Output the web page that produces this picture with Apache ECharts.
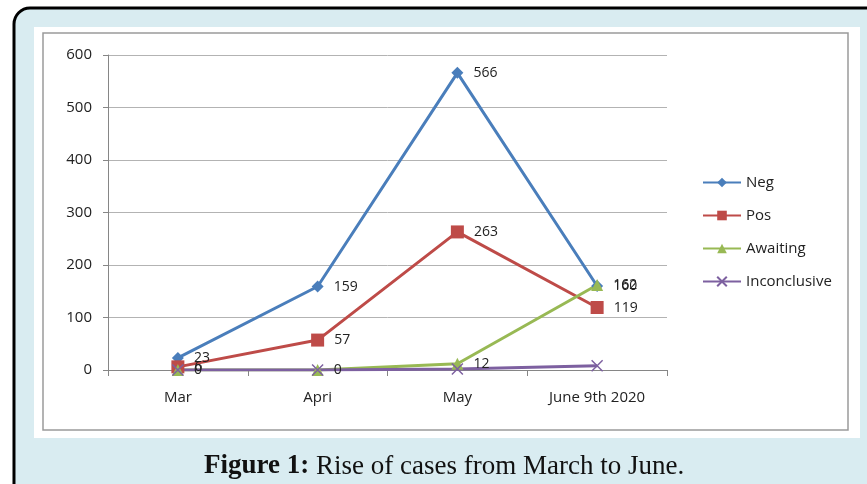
<!DOCTYPE html>
<html>
<head>
<meta charset="utf-8">
<script src="https://cdn.jsdelivr.net/npm/echarts@6/dist/echarts.min.js"></script>
<style>
  html, body { margin: 0; padding: 0; background: #fff; }
  #chart { width: 867px; height: 484px; }
</style>
</head>
<body>
<div id="chart"></div>
<script>
    "use strict";

    // data
    var months = ['Mar', 'Apri', 'May', 'June 9th 2020'];
    var negCases = [23, 159, 566, 160];
    var posCases = [6, 57, 263, 119];
    var awaitingCases = [0, 0, 12, 162];
    var inconclusiveCases = [0, 0, 2, 8];

    var font = 'Open Sans';

    function lineSeries(name, data, color, symbol, size, withLabels) {
        return {
            name: name,
            type: 'line',
            data: data,
            symbol: symbol,
            symbolSize: size,
            lineStyle: { color: color, width: 3 },
            itemStyle: { color: color, borderColor: color, borderWidth: symbol.indexOf('path') === 0 ? 1.5 : 0 },
            label: {
                show: withLabels,
                position: 'right',
                distance: 10,
                color: '#222',
                fontFamily: font,
                fontSize: 14
            },
            emphasis: { disabled: true },
            animation: false
        };
    }

    var chart = echarts.init(document.getElementById('chart'));
    var option = {
        backgroundColor: 'transparent',
        textStyle: { fontFamily: font },
        color: ['#4a7ebb', '#be4b48', '#98b954', '#7d60a0'],

        // Figure frame and caption
        graphic: [
            {
                type: 'rect', z: -10,
                shape: { x: 14, y: 8, width: 900, height: 520, r: 16 },
                style: { fill: '#d9ecf1', stroke: '#000', lineWidth: 3 }
            },
            {
                type: 'rect', z: -9,
                shape: { x: 34, y: 27, width: 826, height: 411 },
                style: { fill: '#fff' }
            },
            {
                type: 'rect', z: -8,
                shape: { x: 43, y: 33, width: 805, height: 397 },
                style: { fill: '#fff', stroke: '#9a9a9a', lineWidth: 1.5 }
            },
            {
                type: 'text', z: 10,
                left: 204, top: 453,
                style: {
                    text: '{b|Figure 1:} Rise of cases from March to June.',
                    font: '27px "Liberation Serif"',
                    fill: '#111',
                    rich: {
                        b: { fontWeight: 'bold', fontSize: 27, fontFamily: 'Liberation Serif', fill: '#111' }
                    }
                }
            }
        ],

        grid: { left: 108, right: 200, top: 55, bottom: 114 },

        legend: {
            orient: 'vertical',
            left: 697,
            top: 170,
            itemWidth: 38,
            itemHeight: 12,
            itemGap: 18,
            textStyle: { fontSize: 15, color: '#222', fontFamily: font },
            data: ['Neg', 'Pos', 'Awaiting', 'Inconclusive']
        },

        xAxis: {
            type: 'category',
            data: months,
            boundaryGap: true,
            axisLine: { lineStyle: { color: '#868686', width: 1 } },
            axisTick: { show: true, length: 6, lineStyle: { color: '#868686' } },
            axisLabel: { margin: 20, color: '#222', fontSize: 15, fontFamily: font }
        },
        yAxis: {
            type: 'value',
            min: 0,
            max: 600,
            interval: 100,
            axisLine: { show: true, lineStyle: { color: '#868686', width: 1 } },
            axisTick: { show: true, length: 5, lineStyle: { color: '#868686' } },
            axisLabel: { margin: 16, color: '#222', fontSize: 15, fontFamily: font },
            splitLine: { lineStyle: { color: '#b3b3b3', width: 1 } }
        },

        series: [
            lineSeries('Neg', negCases, '#4a7ebb', 'diamond', 12, true),
            lineSeries('Pos', posCases, '#be4b48', 'rect', 13, true),
            lineSeries('Awaiting', awaitingCases, '#98b954', 'triangle', 12, true),
            lineSeries('Inconclusive', inconclusiveCases, '#7d60a0', 'path://M0,0L10,10M10,0L0,10', 11, false)
        ]
    };

    chart.setOption(option);
</script>
</body>
</html>
